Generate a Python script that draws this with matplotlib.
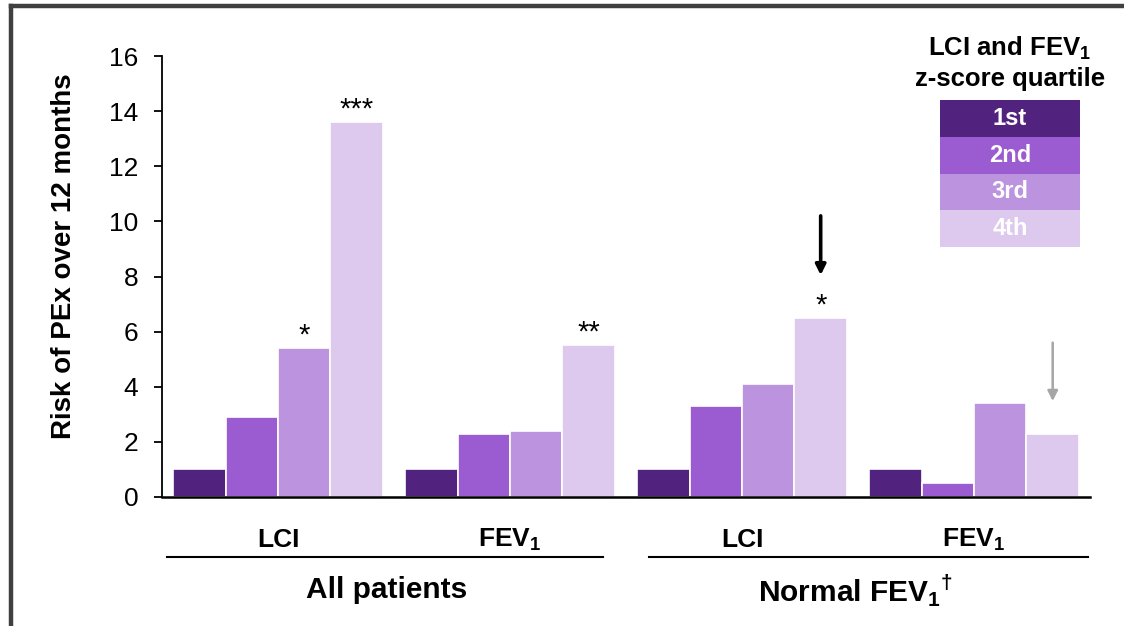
import numpy as np
import matplotlib
matplotlib.use('Agg')
import matplotlib.pyplot as plt
from matplotlib.patches import Rectangle
from matplotlib.lines import Line2D

plt.rcParams['font.family'] = ['Liberation Sans', 'DejaVu Sans']
plt.rcParams['mathtext.fontset'] = 'custom'
plt.rcParams['mathtext.rm'] = 'Liberation Sans'
plt.rcParams['mathtext.bf'] = 'Liberation Sans:bold'

# risk of PEx per quartile, one list per quartile, ordered by measure
measures = ['LCI', 'FEV$_\\mathbf{1}$', 'LCI', 'FEV$_\\mathbf{1}$']
populations = ['All patients', 'Normal FEV$_\\mathbf{1}{}^\\mathbf{\u2020}$']
quartiles = ['1st', '2nd', '3rd', '4th']
q1 = [1.0, 1.0, 1.0, 1.0]
q2 = [2.9, 2.3, 3.3, 0.5]
q3 = [5.4, 2.4, 4.1, 3.4]
q4 = [13.6, 5.5, 6.5, 2.3]
values = [q1, q2, q3, q4]

# significance markers: (measure index, quartile index, label)
stars = [(0, 2, '*'), (0, 3, '***'), (1, 3, '**'), (2, 3, '*')]

colors = ['#52237e', '#9a5cd0', '#bc93df', '#ddc8ee']

fig = plt.figure(figsize=(11.24, 6.26), dpi=100)
ax = fig.add_axes([0.1441, 0.2061, 0.8257, 0.7044])

x = np.arange(len(measures))
step = 0.226
for i, vals in enumerate(values):
    ax.bar(x + (i - 1.5) * step, vals, width=step, color=colors[i],
           edgecolor='white', linewidth=1.2, zorder=2)

for m, qi, label in stars:
    ax.annotate(label, (x[m] + (qi - 1.5) * step, values[qi][m]),
                xytext=(0, -1), textcoords='offset points',
                ha='center', va='bottom', fontsize=21)

# arrows above the 4th quartile bars in the normal FEV1 group
ax.annotate('', xy=(x[2] + 1.5 * step, 8.05), xytext=(x[2] + 1.5 * step, 10.2),
            arrowprops=dict(arrowstyle='-|>,head_length=0.6,head_width=0.3',
                            color='black', lw=2.6, shrinkA=0, shrinkB=0))
ax.annotate('', xy=(x[3] + 1.5 * step, 3.48), xytext=(x[3] + 1.5 * step, 5.6),
            arrowprops=dict(arrowstyle='-|>,head_length=0.6,head_width=0.3',
                            color='#a6a6a6', lw=1.8, shrinkA=0, shrinkB=0))

ax.set_xlim(-0.5, 3.5)
ax.set_ylim(0, 16)
ax.set_yticks(np.arange(0, 17, 2))
ax.tick_params(axis='y', labelsize=19, length=6, width=1.3, pad=11)
ax.set_xticks([])
ax.spines['top'].set_visible(False)
ax.spines['right'].set_visible(False)
ax.spines['left'].set_linewidth(1.3)
ax.spines['bottom'].set_linewidth(1.8)
ax.set_ylabel('Risk of PEx over 12 months', fontsize=20, fontweight='bold')
ax.yaxis.set_label_coords(-0.092, 0.546)

# measure labels, group rules and population labels below the axis
tr = ax.get_xaxis_transform()
for xi, name in zip(x, measures):
    ax.text(xi, -0.097, name, transform=tr, ha='center', va='center',
            fontsize=19, fontweight='bold')
for (x0, x1) in [(-0.478, 1.40), (1.60, 3.49)]:
    ax.plot([x0, x1], [-0.136, -0.136], transform=tr, color='black',
            lw=1.5, clip_on=False)
for xc, name in zip([0.47, 2.49], populations):
    ax.text(xc, -0.212, name, transform=tr, ha='center', va='center',
            fontsize=21.5, fontweight='bold')

# quartile key
fig.text(0.8986, 0.900, 'LCI and FEV$_\\mathbf{1}$\nz-score quartile',
         ha='center', va='center', fontsize=18.5, fontweight='bold',
         linespacing=1.3)
kax = fig.add_axes([0.8363, 0.6054, 0.1246, 0.2348])
kax.set_xlim(0, 1)
kax.set_ylim(0, 4)
kax.axis('off')
for i, q in enumerate(quartiles):
    y0 = 3 - i
    kax.add_patch(Rectangle((0, y0), 1, 1, facecolor=colors[i],
                            edgecolor='none'))
    kax.text(0.5, y0 + 0.5, q, ha='center', va='center', color='white',
             fontsize=17, fontweight='bold')

# outer frame (left and top edges)
fx = 11 / 1124
fy = 1 - 6 / 626
fig.add_artist(Line2D([fx, fx], [0, fy], color='#404040', lw=3.2))
fig.add_artist(Line2D([fx, 1], [fy, fy], color='#404040', lw=3.2))

fig.savefig('out.png', dpi=100)
